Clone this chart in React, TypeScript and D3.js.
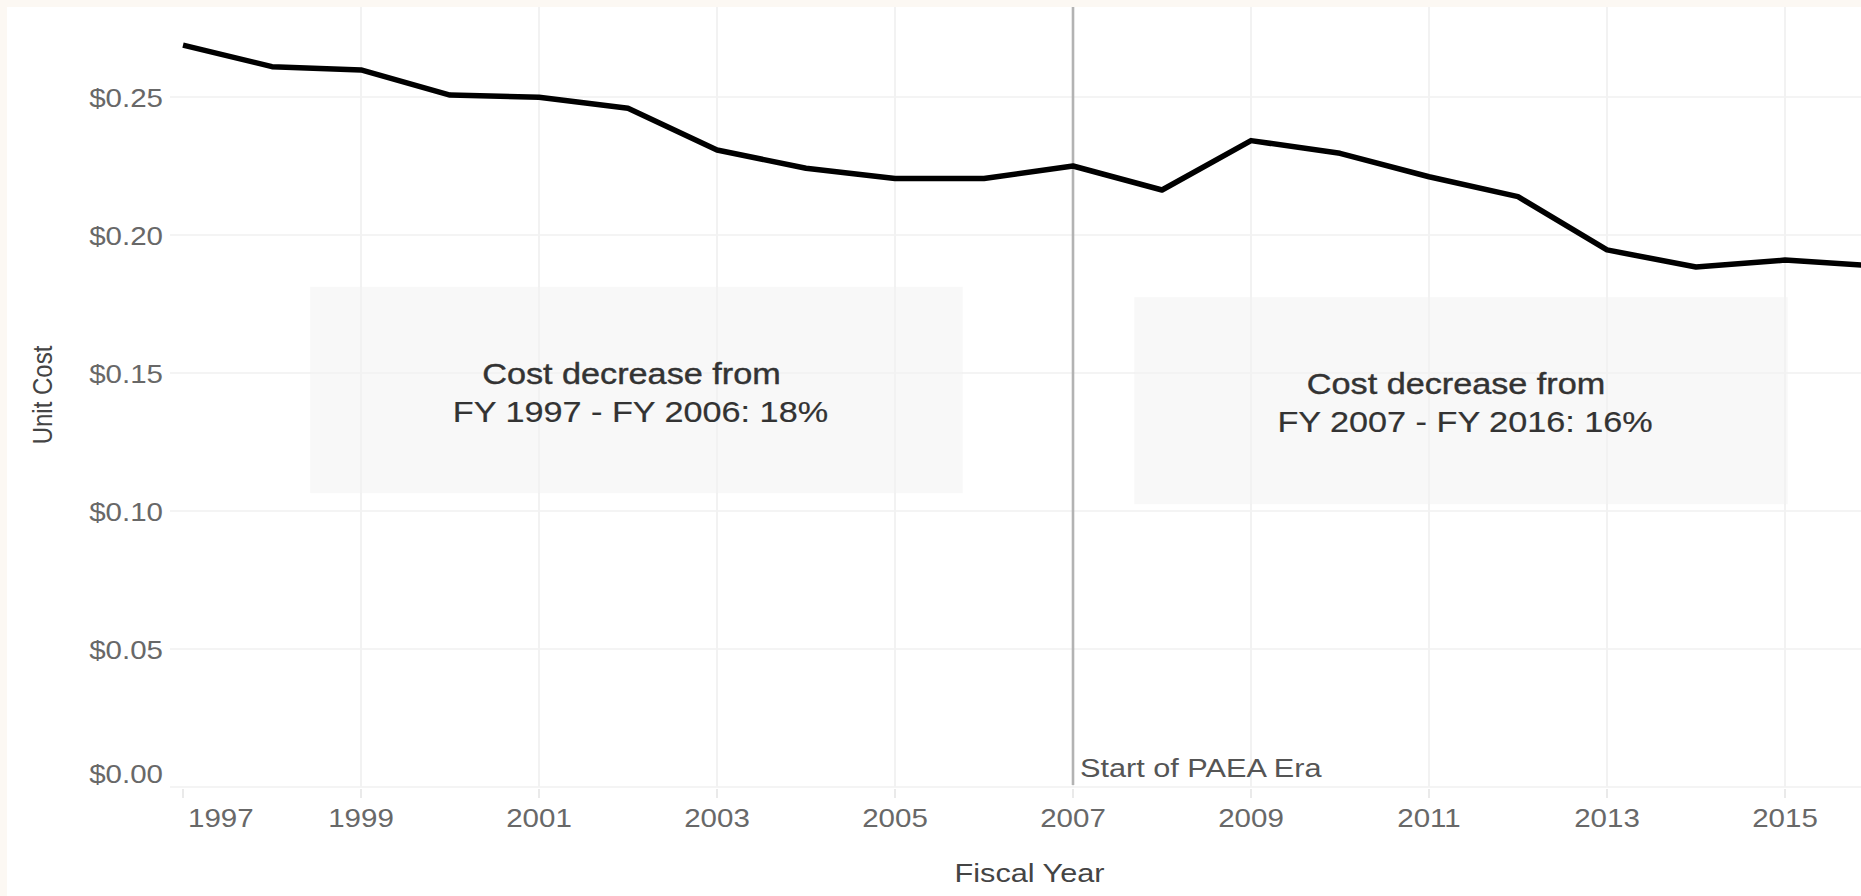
import React from "react";
import * as d3 from "d3";

// ---- data ----
const fiscalYears = [1997, 1998, 1999, 2000, 2001, 2002, 2003, 2004, 2005, 2006, 2007, 2008, 2009, 2010, 2011, 2012, 2013, 2014, 2015, 2016];
const unitCost = [0.2688, 0.261, 0.2598, 0.2507, 0.2499, 0.2459, 0.2308, 0.2242, 0.2205, 0.2205, 0.225, 0.2163, 0.2342, 0.2296, 0.2211, 0.2139, 0.1946, 0.1884, 0.1909, 0.1888];
const xTickYears = [1997, 1999, 2001, 2003, 2005, 2007, 2009, 2011, 2013, 2015];
const yTickValues = [0, 0.05, 0.1, 0.15, 0.2, 0.25];
const referenceYear = 2007;
const referenceLabel = "Start of PAEA Era";
const annotationLine1 = ["Cost decrease from", "Cost decrease from"];
const annotationLine2 = ["FY 1997 - FY 2006: 18%", "FY 2007 - FY 2016: 16%"];
const xTitle = "Fiscal Year";
const yTitle = "Unit Cost";

const W = 1861;
const H = 896;
const SX = 1.18; // horizontal stretch of glyphs in the reference
const FONT = "'Liberation Sans', Arial, sans-serif";

export default function App() {
  const left = 170;
  const top = 7;
  const x = d3.scaleLinear().domain([1997, 2015]).range([183, 1785]);
  const y = d3.scaleLinear().domain([0, 0.25]).range([787, 97]);
  const fmt = d3.format("$.2f");
  const pts = fiscalYears.map((yr, i) => [yr, unitCost[i]] as [number, number]);
  const line = d3
    .line<[number, number]>()
    .x((d) => x(d[0]))
    .y((d) => y(d[1]));

  // annotation box extents, in data units
  const boxes = [
    { x0: 1998.43, x1: 2005.76, yTop: 0.1812, yBot: 0.1065 },
    { x0: 2007.69, x1: 2015.03, yTop: 0.1775, yBot: 0.1025 },
  ];

  const stretched = (
    key: string,
    tx: number,
    ty: number,
    text: string,
    size: number,
    fill: string,
    anchor: "start" | "middle" | "end",
    bold = 0
  ) => (
    <text
      key={key}
      transform={`translate(${tx},${ty}) scale(${SX},1)`}
      fontFamily={FONT}
      fontSize={size}
      fill={fill}
      stroke={bold ? fill : "none"}
      strokeWidth={bold}
      textAnchor={anchor}
    >
      {text}
    </text>
  );

  const y0 = y(0);

  return (
    <svg
      width={W}
      height={H}
      style={{ position: "absolute", left: 0, top: 0, display: "block" }}
    >
      <rect x={0} y={0} width={W} height={H} fill="#fcf8f3" />
      <rect x={top} y={top} width={W - top} height={H - top} fill="#ffffff" />

      {/* horizontal gridlines */}
      {yTickValues.map((v) => (
        <line key={"hg" + v} x1={left} x2={W} y1={y(v)} y2={y(v)} stroke="#f1f1f1" strokeWidth={1.6} />
      ))}
      {/* vertical gridlines */}
      {xTickYears
        .filter((yr) => yr > 1997)
        .map((yr) => (
          <line key={"vg" + yr} x1={x(yr)} x2={x(yr)} y1={top} y2={y0} stroke="#f2f2f2" strokeWidth={2} />
        ))}
      {/* tick marks */}
      {xTickYears.map((yr) => (
        <line key={"tk" + yr} x1={x(yr)} x2={x(yr)} y1={y0 + 2} y2={y0 + 11} stroke="#e8e8e8" strokeWidth={1.8} />
      ))}

      {/* annotation boxes */}
      {boxes.map((b, i) => {
        const bx = x(b.x0);
        const bw = x(b.x1) - x(b.x0);
        const by = y(b.yTop);
        const bh = y(b.yBot) - y(b.yTop);
        const cx = bx + bw / 2;
        return (
          <g key={"box" + i}>
            <rect x={bx} y={by} width={bw} height={bh} fill="#f2f2f2" fillOpacity={0.5} />
            {stretched("a1" + i, cx - 5, by + 97, annotationLine1[i], 29, "#333333", "middle", 0.4)}
            {stretched("a2" + i, cx + 4, by + 135, annotationLine2[i], 29, "#333333", "middle", 0.2)}
          </g>
        );
      })}

      {/* reference line */}
      <line x1={x(referenceYear)} x2={x(referenceYear)} y1={top} y2={y0 - 2} stroke="#b3b3b3" strokeWidth={2.6} />
      {stretched("ref", x(referenceYear) + 7, y0 - 10, referenceLabel, 26, "#555555", "start")}

      {/* data line */}
      <path d={line(pts) || ""} fill="none" stroke="#000000" strokeWidth={5.5} strokeLinejoin="round" />

      {/* y tick labels */}
      {yTickValues.map((v) =>
        stretched("yl" + v, 163, v === 0 ? y(v) - 4 : y(v) + 10, fmt(v), 25, "#686868", "end")
      )}
      {/* x tick labels */}
      {xTickYears.map((yr, i) =>
        i === 0
          ? stretched("xl" + yr, x(yr) + 5, 827, String(yr), 25, "#686868", "start")
          : stretched("xl" + yr, x(yr), 827, String(yr), 25, "#686868", "middle")
      )}

      {/* axis titles */}
      {stretched("xt", 1029.5, 882, xTitle, 26, "#444444", "middle")}
      <text
        transform={`translate(52,395) rotate(-90) scale(1,${SX})`}
        fontFamily={FONT}
        fontSize={24}
        fill="#444444"
        textAnchor="middle"
      >
        {yTitle}
      </text>
    </svg>
  );
}
